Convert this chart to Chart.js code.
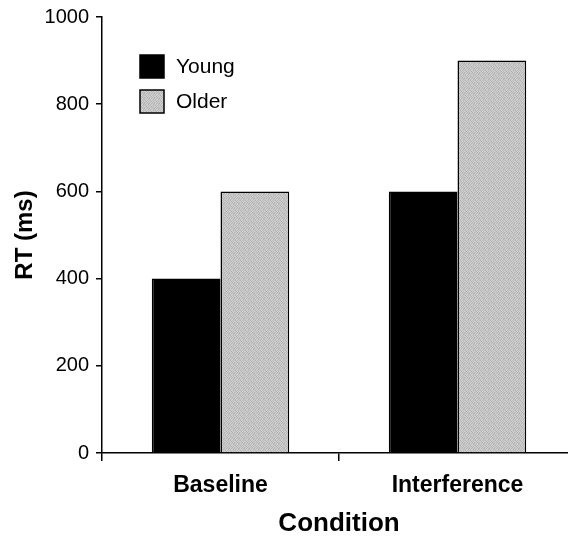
<!DOCTYPE html>
<html>
<head>
<meta charset="utf-8">
<script src="https://cdn.jsdelivr.net/npm/chart.js@4/dist/chart.umd.min.js"></script>
<style>
  html, body { margin: 0; padding: 0; background: #fff; overflow: hidden; }
  #wrap { width: 576px; height: 537px; }
</style>
</head>
<body>
<div id="wrap"><canvas id="rtChart" width="576" height="537"></canvas></div>
<script>
const conditions = ["Baseline", "Interference"];
const youngRT = [400, 600];
const olderRT = [600, 900];
const groupNames = ["Young", "Older"];
const yTicks = [0, 200, 400, 600, 800, 1000];

// speckled gray fill like the scanned print
function grayPattern() {
  const c = document.createElement("canvas");
  c.width = 5;
  c.height = 5;
  const g = c.getContext("2d");
  const shades = [
    "#b4b4b4", "#d2d2d2", "#bcbcbc", "#cacaca", "#c4c4c4",
    "#cccccc", "#aeaeae", "#d6d6d6", "#b8b8b8", "#d0d0d0",
    "#c2c2c2", "#d0d0d0", "#b0b0b0", "#cecece", "#bababa",
    "#d4d4d4", "#b6b6b6", "#c8c8c8", "#c0c0c0", "#b2b2b2",
    "#bebebe", "#cacaca", "#d4d4d4", "#b0b0b0", "#cccccc"
  ];
  shades.forEach((s, i) => {
    g.fillStyle = s;
    g.fillRect(i % 5, Math.floor(i / 5), 1, 1);
  });
  return g.createPattern(c, "repeat");
}

const ctx = document.getElementById("rtChart").getContext("2d");
const olderFill = grayPattern();
const fam = "'Liberation Sans', Arial, sans-serif";

// legend drawn inside the plot area, top left
const insideLegend = {
  id: "insideLegend",
  afterDraw(chart) {
    const c = chart.ctx;
    c.save();
    chart.data.datasets.forEach((ds, i) => {
      const x = 140, y = 55 + i * 35;
      c.fillStyle = ds.backgroundColor;
      c.fillRect(x, y, 24, 23);
      c.strokeStyle = "#000";
      c.lineWidth = 1.5;
      c.strokeRect(x, y, 24, 23);
      c.fillStyle = "#000";
      c.font = "21px " + fam;
      c.textBaseline = "middle";
      c.fillText(ds.label, 176, y + 12);
    });
    c.restore();
  }
};

new Chart(ctx, {
  type: "bar",
  data: {
    labels: conditions,
    datasets: [
      { label: groupNames[0], data: youngRT, backgroundColor: "#000", borderColor: "#000", borderWidth: 1.5 },
      { label: groupNames[1], data: olderRT, backgroundColor: olderFill, borderColor: "#000", borderWidth: 1.5 }
    ]
  },
  options: {
    responsive: false,
    animation: false,
    layout: { padding: { top: 10, right: 0, left: 0, bottom: 0 } },
    categoryPercentage: 0.58,
    barPercentage: 1.0,
    plugins: {
      legend: { display: false },
      tooltip: { enabled: false }
    },
    scales: {
      x: {
        grid: { drawOnChartArea: false, offset: true, tickLength: 8, color: "#000", lineWidth: 1.5 },
        border: { display: true, color: "#000", width: 1.5 },
        ticks: {
          color: "#000",
          padding: 11,
          font: { family: fam, size: 23, weight: "bold" }
        },
        title: {
          display: true,
          text: "Condition",
          color: "#000",
          padding: { top: 0, bottom: 0 },
          font: { family: fam, size: 26, weight: "bold", lineHeight: 1.0 }
        },
        afterFit: s => { s.height = 84; }
      },
      y: {
        min: 0,
        max: 1000,
        afterBuildTicks: s => { s.ticks = yTicks.map(v => ({ value: v })); },
        grid: { drawOnChartArea: false, tickLength: 6, color: "#000", lineWidth: 1.5 },
        border: { display: true, color: "#000", width: 1.5 },
        ticks: {
          color: "#000",
          padding: 7,
          callback: v => String(v),
          font: { family: fam, size: 20, lineHeight: 1.0 }
        },
        title: {
          display: true,
          text: "RT (ms)",
          color: "#000",
          padding: { top: 11, bottom: 0 },
          font: { family: fam, size: 24, weight: "bold" }
        },
        afterFit: s => { s.width = 102; }
      }
    }
  },
  plugins: [insideLegend]
});
</script>
</body>
</html>
